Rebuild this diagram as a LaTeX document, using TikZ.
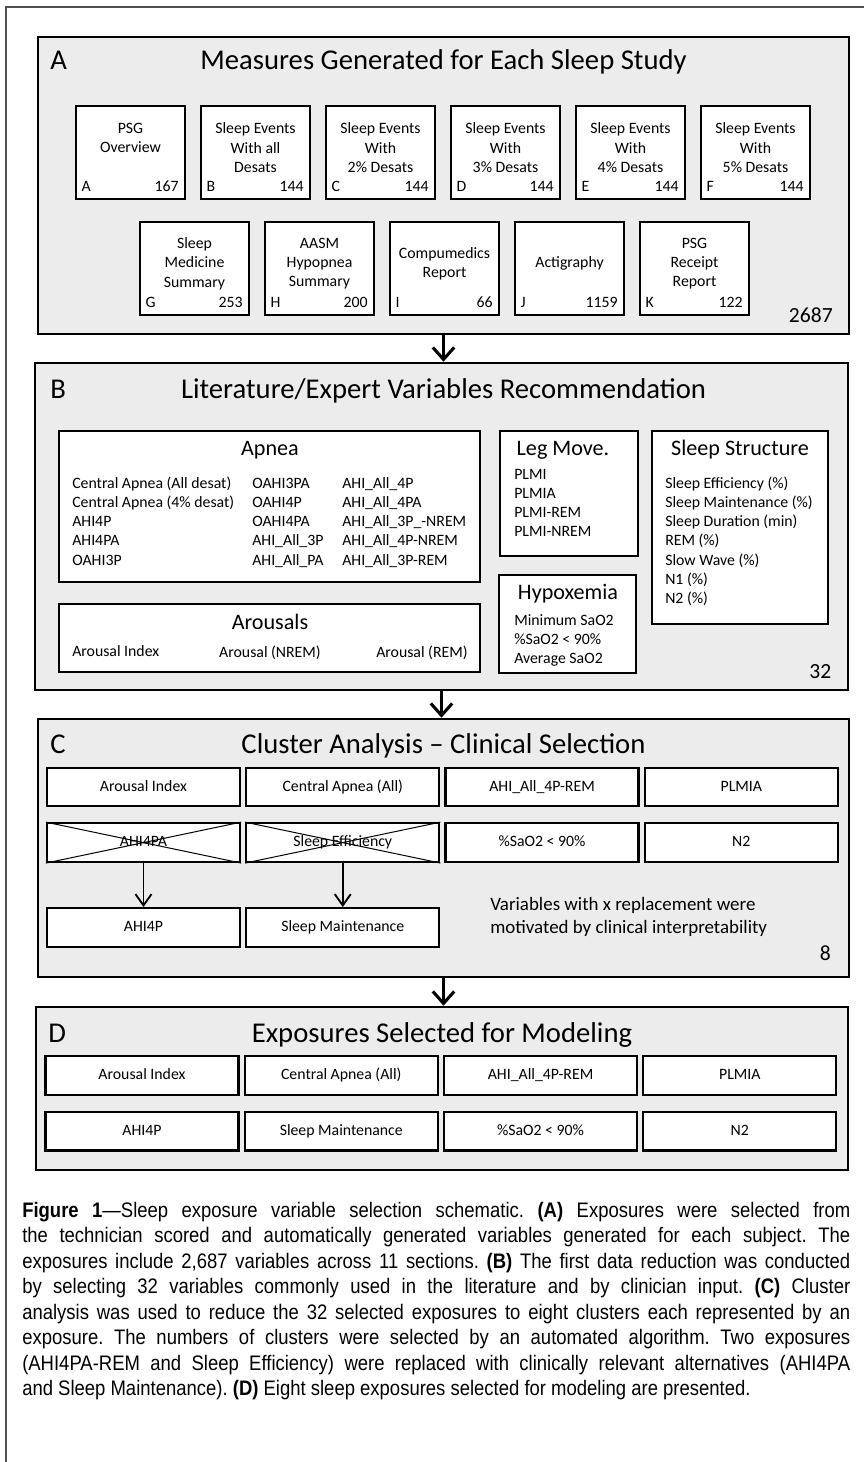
\documentclass[tikz,border=0pt]{standalone}
\usepackage{fontspec}
\setmainfont{Carlito}
\newfontfamily\capfont[FakeStretch=0.88]{Liberation Sans}
\usetikzlibrary{arrows.meta, positioning}
\definecolor{panelgray}{RGB}{236,236,236}
\definecolor{framegray}{RGB}{80,80,80}
\frenchspacing

\begin{document}
\begin{tikzpicture}[x=0.75pt, y=-0.75pt,
  panel/.style={draw, line width=1.9pt, fill=panelgray, inner sep=0pt},
  title/.style={font=\fontsize{21.5}{25}\selectfont, inner sep=0pt},
  subtitle/.style={font=\fontsize{16.6}{20}\selectfont, inner sep=0pt},
  studybox/.style={draw, line width=1.7pt, fill=white, minimum width=81.75pt, minimum height=69.75pt, inner sep=0pt},
  boxtext/.style={align=center, font=\fontsize{11.85}{14.5}\selectfont, yshift=3.6pt, inner sep=0pt},
  tagl/.style={anchor=base west, xshift=4.8pt, yshift=6.2pt, font=\fontsize{11.85}{14.5}\selectfont, inner sep=0pt},
  tagr/.style={anchor=base east, xshift=-5.5pt, yshift=6.2pt, font=\fontsize{11.85}{14.5}\selectfont, inner sep=0pt},
  groupbox/.style={draw, line width=1.7pt, fill=white, inner sep=0pt},
  item/.style={anchor=base west, font=\fontsize{11.85}{14.5}\selectfont, inner sep=0pt},
  selbox/.style={draw, line width=1.7pt, fill=white, minimum width=144.75pt, minimum height=29pt, inner sep=0pt, text height=8.5pt, text depth=2.5pt, font=\fontsize{11.85}{14.5}\selectfont},
  total/.style={anchor=base east, font=\fontsize{16.2}{19}\selectfont, inner sep=0pt},
  note/.style={anchor=base west, font=\fontsize{14.2}{17.25}\selectfont, inner sep=0pt},
  flow/.style={line width=2.3pt, -{Straight Barb[length=9pt, width=16pt]}},
  replarrow/.style={line width=1.4pt, -{Straight Barb[length=8.5pt, width=12pt]}},
  caption/.style={anchor=north west, text width=621pt, align=justify, inner sep=0pt, font=\capfont\fontsize{15.75}{19.1}\selectfont}
]
\useasboundingbox (0,0) rectangle (864,1462);

% Page frame
\draw[framegray, line width=0.9pt] (6,1462) -- (6,7) -- (864,7);

% A: measures per study
\node[panel, minimum width=608.25pt, minimum height=222.75pt] (panelA) at (443.5,185.5) {};
\node[title, anchor=base west] (letA) at (50,70) {A};
\node[title, anchor=base] (titleA) at (443.5,70) {Measures Generated for Each Sleep Study};

\foreach \nm/\xx/\txt/\lt/\cnt in {
    psg/130.5/{PSG\\Overview\\~}/A/167,
    evall/255.5/{Sleep Events\\With all\\Desats}/B/144,
    ev2/380.5/{Sleep Events\\With\\2\% Desats}/C/144,
    ev3/505.5/{Sleep Events\\With\\3\% Desats}/D/144,
    ev4/630.5/{Sleep Events\\With\\4\% Desats}/E/144,
    ev5/755.5/{Sleep Events\\With\\5\% Desats}/F/144}
{
  \node[studybox] (\nm) at (\xx,152.5) {};
  \node[boxtext] (\nm-t) at (\nm.center) {\txt};
  \node[tagl] (\nm-l) at (\nm.south west) {\lt};
  \node[tagr] (\nm-n) at (\nm.south east) {\cnt};
}

\foreach \nm/\xx/\txt/\lt/\cnt in {
    smed/194.5/{Sleep\\Medicine\\Summary}/G/253,
    aasm/319.5/{AASM\\Hypopnea\\Summary}/H/200,
    comp/444.5/{Compumedics\\Report}/I/66,
    acti/569.5/{Actigraphy}/J/1159,
    rcpt/694.5/{PSG\\Receipt\\Report}/K/122}
{
  \node[studybox] (\nm) at (\xx,268.5) {};
  \node[boxtext] (\nm-t) at (\nm.center) {\txt};
  \node[tagl] (\nm-l) at (\nm.south west) {\lt};
  \node[tagr] (\nm-n) at (\nm.south east) {\cnt};
}

\node[total] (totalA) at (833,322.5) {2687};

% B: literature / expert recommendation
\node[panel, minimum width=609.75pt, minimum height=245.25pt] (panelB) at (441.5,526.5) {};
\node[title, anchor=base west] (letB) at (50,398) {B};
\node[title, anchor=base] (titleB) at (443.5,398) {Literature/Expert Variables Recommendation};

% Apnea
\node[groupbox, minimum width=315.75pt, minimum height=113.25pt] (apnea) at (269.5,506.5) {};
\node[subtitle, anchor=base] (apneat) at (270,455) {Apnea};
\foreach \v [count=\i from 0] in {Central Apnea (All desat), Central Apnea (4\% desat), AHI4P, AHI4PA, OAHI3P}
  \node[item] (apa\i) at (72,{488+19.3*\i}) {\v};
\foreach \v [count=\i from 0] in {OAHI3PA, OAHI4P, OAHI4PA, AHI\_All\_3P, AHI\_All\_PA}
  \node[item] (apb\i) at (252,{488+19.3*\i}) {\v};
\foreach \v [count=\i from 0] in {AHI\_All\_4P, AHI\_All\_4PA, AHI\_All\_3P\_-NREM, AHI\_All\_4P-NREM, AHI\_All\_3P-REM}
  \node[item] (apc\i) at (342,{488+19.3*\i}) {\v};

% Arousals
\node[groupbox, minimum width=315.75pt, minimum height=51pt] (arousal) at (269.5,638) {};
\node[subtitle, anchor=base] (arousalt) at (270,629) {Arousals};
\node[item] (ar1) at (72,656) {Arousal Index};
\node[item, anchor=base] (ar2) at (270,657) {Arousal (NREM)};
\node[item] (ar3) at (376,657) {Arousal (REM)};

% Leg movements
\node[groupbox, minimum width=103.5pt, minimum height=93.75pt] (leg) at (569,493.5) {};
\node[subtitle, anchor=base] (legt) at (563,455) {Leg Move.};
\foreach \v [count=\i from 0] in {PLMI, PLMIA, PLMI-REM, PLMI-NREM}
  \node[item] (leg\i) at (514,{479+19.3*\i}) {\v};

% Hypoxemia
\node[groupbox, minimum width=102.75pt, minimum height=73.5pt] (hypox) at (567.5,624) {};
\node[subtitle, anchor=base] (hypoxt) at (568,599) {Hypoxemia};
\foreach \v [count=\i from 0] in {Minimum SaO2, \%SaO2 < 90\%, Average SaO2}
  \node[item] (hyp\i) at (514,{625+19.3*\i}) {\v};

% Sleep structure
\node[groupbox, minimum width=132pt, minimum height=144.75pt] (struct) at (740,527.5) {};
\node[subtitle, anchor=base] (structt) at (740,455) {Sleep Structure};
\foreach \v [count=\i from 0] in {Sleep Efficiency (\%), Sleep Maintenance (\%), Sleep Duration (min), REM (\%), Slow Wave (\%), N1 (\%), N2 (\%)}
  \node[item] (st\i) at (665,{488+19.3*\i}) {\v};

\node[total] (totalB) at (831.5,678) {32};

% C: cluster analysis
\node[panel, minimum width=608.25pt, minimum height=193.5pt] (panelC) at (443.5,848) {};
\node[title, anchor=base west] (letC) at (50,753) {C};
\node[title, anchor=base] (titleC) at (443.5,753) {Cluster Analysis -- Clinical Selection};

\node[selbox] (c1) at (143.5,787) {Arousal Index};
\node[selbox, right=3pt of c1] (c2) {Central Apnea (All)};
\node[selbox, right=3pt of c2] (c3) {AHI\_All\_4P-REM};
\node[selbox, right=3pt of c3] (c4) {PLMIA};
\node[selbox, below=11pt of c1] (c5) {AHI4PA};
\node[selbox, right=3pt of c5] (c6) {Sleep Efficiency};
\node[selbox, right=3pt of c6] (c7) {\%SaO2 < 90\%};
\node[selbox, right=3pt of c7] (c8) {N2};
\node[selbox, below=33pt of c5] (c9) {AHI4P};
\node[selbox, right=3pt of c9] (c10) {Sleep Maintenance};

% crossed out exposures
\draw[line width=0.75pt] (c5.north west) -- (c5.south east) (c5.south west) -- (c5.north east);
\draw[line width=0.75pt] (c6.north west) -- (c6.south east) (c6.south west) -- (c6.north east);

% replacements
\draw[replarrow] (c5) -- (c9);
\draw[replarrow] (c6) -- (c10);

\node[note] (note1) at (490,910) {Variables with x replacement were};
\node[note] (note2) at (490,933) {motivated by clinical interpretability};
\node[total] (totalC) at (831,960) {8};

% D: selected exposures
\node[panel, minimum width=609pt, minimum height=122.25pt] (panelD) at (442,1088.5) {};
\node[title, anchor=base west] (letD) at (48,1042) {D};
\node[title, anchor=base] (titleD) at (442,1042) {Exposures Selected for Modeling};

\node[selbox] (d1) at (142,1075.5) {Arousal Index};
\node[selbox, right=3pt of d1] (d2) {Central Apnea (All)};
\node[selbox, right=3pt of d2] (d3) {AHI\_All\_4P-REM};
\node[selbox, right=3pt of d3] (d4) {PLMIA};
\node[selbox, below=11pt of d1] (d5) {AHI4P};
\node[selbox, right=3pt of d5] (d6) {Sleep Maintenance};
\node[selbox, right=3pt of d6] (d7) {\%SaO2 < 90\%};
\node[selbox, right=3pt of d7] (d8) {N2};

% Flow between stages
\draw[flow] (panelA.south) -- (panelA.south |- panelB.north);
\draw[flow] (panelB.south) -- (panelB.south |- panelC.north);
\draw[flow] (panelC.south) -- (panelC.south |- panelD.north);

% Caption
\node[caption] (cap) at (22,1202) {\textbf{Figure 1}—Sleep exposure variable selection schematic. \textbf{(A)} Exposures were selected from\linebreak
the technician scored and automatically generated variables generated for each subject. The\linebreak
exposures include 2,687 variables across 11 sections. \textbf{(B)} The first data reduction was conducted\linebreak
by selecting 32 variables commonly used in the literature and by clinician input. \textbf{(C)} Cluster\linebreak
analysis was used to reduce the 32 selected exposures to eight clusters each represented by an\linebreak
exposure. The numbers of clusters were selected by an automated algorithm. Two exposures\linebreak
(AHI4PA-REM and Sleep Efficiency) were replaced with clinically relevant alternatives (AHI4PA\linebreak
and Sleep Maintenance). \textbf{(D)} Eight sleep exposures selected for modeling are presented.};

\end{tikzpicture}
\end{document}
